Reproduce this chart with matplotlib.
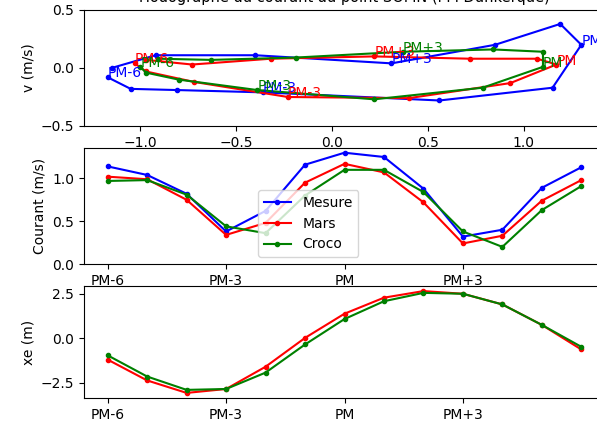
import matplotlib
matplotlib.use("Agg")
import matplotlib.pyplot as plt

# ---- data ----
hours = list(range(13))
tick_pos = [0, 3, 6, 9]
tick_labels = ["PM-6", "PM-3", "PM", "PM+3"]
label_idx = [0, 3, 6, 9]

series_names = ["Mesure", "Mars", "Croco"]
series_colors = ["b", "r", "g"]

u_mesure = [-1.17, -1.05, -0.81, -0.36, 0.56, 1.15, 1.30, 1.19, 0.85, 0.31, -0.40, -0.92, -1.15]
v_mesure = [-0.08, -0.18, -0.19, -0.21, -0.28, -0.17, 0.20, 0.38, 0.20, 0.04, 0.11, 0.11, 0.00]
u_mars = [-1.03, -0.97, -0.72, -0.23, 0.40, 0.93, 1.17, 1.07, 0.72, 0.22, -0.32, -0.73, -0.97]
v_mars = [0.04, -0.03, -0.12, -0.25, -0.26, -0.13, 0.03, 0.08, 0.08, 0.10, 0.08, 0.03, 0.07]
u_croco = [-1.00, -0.97, -0.80, -0.39, 0.22, 0.785, 1.10, 1.10, 0.84, 0.37, -0.19, -0.63, -0.91]
v_croco = [0.01, -0.04, -0.10, -0.19, -0.27, -0.17, 0.01, 0.14, 0.16, 0.14, 0.09, 0.07, 0.08]

speed_mesure = [1.14, 1.04, 0.82, 0.38, 0.62, 1.16, 1.30, 1.25, 0.88, 0.32, 0.40, 0.89, 1.13]
speed_mars = [1.02, 0.99, 0.75, 0.34, 0.48, 0.95, 1.17, 1.07, 0.72, 0.24, 0.33, 0.74, 0.98]
speed_croco = [0.97, 0.98, 0.81, 0.44, 0.36, 0.80, 1.10, 1.10, 0.84, 0.38, 0.20, 0.63, 0.91]

xe_mars = [-1.2, -2.37, -3.07, -2.85, -1.6, 0.02, 1.38, 2.28, 2.65, 2.5, 1.9, 0.75, -0.63]
xe_croco = [-0.96, -2.15, -2.9, -2.85, -1.93, -0.35, 1.08, 2.08, 2.55, 2.5, 1.9, 0.75, -0.48]

title = "Hodographe du courant au point SOMN (PM Dunkerque)"

# ---- figure ----
fig = plt.figure(figsize=(5.97, 4.25), dpi=100)
L, W = 84 / 597, (605 - 84) / 597
ax1 = fig.add_axes([L, 1 - 126 / 425, W, 116 / 425])
ax2 = fig.add_axes([L, 1 - 264 / 425, W, 116 / 425])
ax3 = fig.add_axes([L, 1 - 398 / 425, W, 112 / 425])

us = [u_mesure, u_mars, u_croco]
vs = [v_mesure, v_mars, v_croco]
for u, v, c in zip(us, vs, series_colors):
    ax1.plot(u, v, "-o", color=c, ms=3, lw=1.5)
    for k, i in enumerate(label_idx):
        ax1.text(u[i], v[i], tick_labels[k], color=c, fontsize=10)
ax1.set_ylim(-0.5, 0.5)
ax1.set_yticks([-0.5, 0.0, 0.5])
ax1.set_ylabel("v (m/s)")
ax1.set_title(title, fontsize=10.5)

speeds = [speed_mesure, speed_mars, speed_croco]
for s, c, n in zip(speeds, series_colors, series_names):
    ax2.plot(hours, s, "-o", color=c, ms=3, lw=1.5, label=n)
ax2.set_ylim(bottom=0)
ax2.set_yticks([0.0, 0.5, 1.0])
ax2.set_xticks(tick_pos)
ax2.set_xticklabels(tick_labels)
ax2.set_ylabel("Courant (m/s)")
ax2.legend(loc="lower left", bbox_to_anchor=(0.334, 0.06), borderaxespad=0)

ax3.plot(hours, xe_mars, "-o", color="r", ms=3, lw=1.5)
ax3.plot(hours, xe_croco, "-o", color="g", ms=3, lw=1.5)
ax3.set_yticks([-2.5, 0.0, 2.5])
ax3.set_xticks(tick_pos)
ax3.set_xticklabels(tick_labels)
ax3.set_ylabel("xe (m)")

fig.savefig("out.png", dpi=100)
